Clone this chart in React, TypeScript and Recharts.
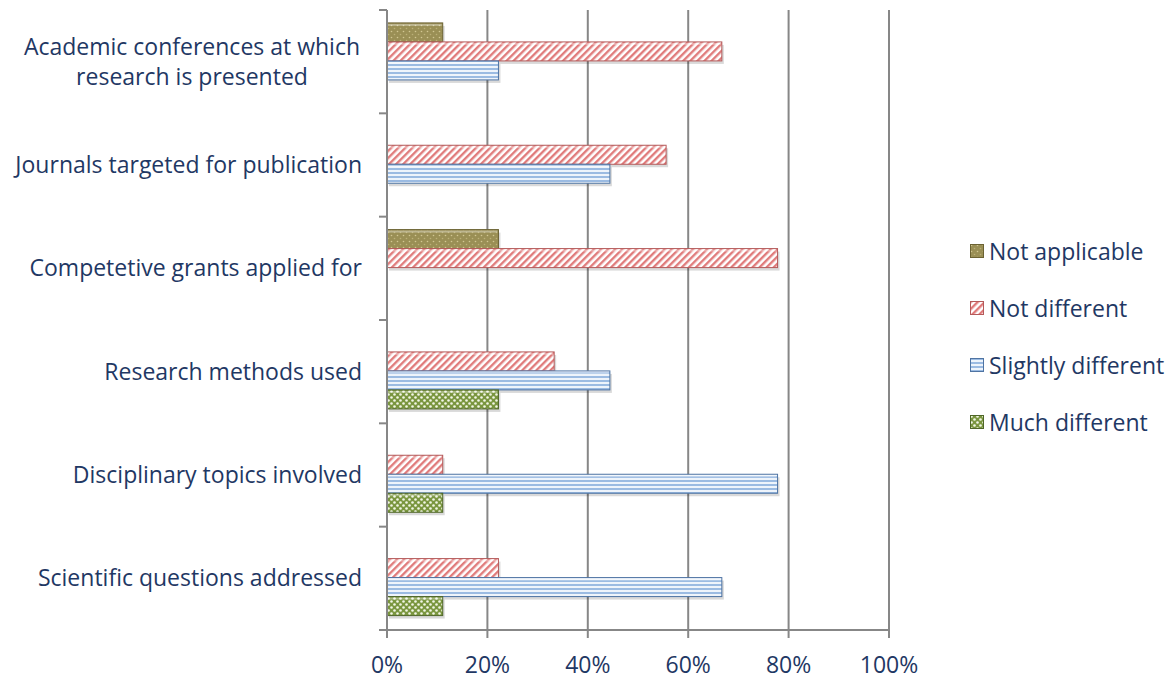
import React from 'react';
import { BarChart, Bar, XAxis, YAxis, CartesianGrid } from 'recharts';

const categories = [
  'Academic conferences at which research is presented',
  'Journals targeted for publication',
  'Competetive grants applied for',
  'Research methods used',
  'Disciplinary topics involved',
  'Scientific questions addressed',
];

// shares of respondents
const notApplicable = [0.111, 0, 0.222, 0, 0, 0];
const notDifferent = [0.667, 0.556, 0.778, 0.333, 0.111, 0.222];
const slightlyDifferent = [0.222, 0.444, 0, 0.444, 0.778, 0.667];
const muchDifferent = [0, 0, 0, 0.222, 0.111, 0.111];

const xTicks = [0, 0.2, 0.4, 0.6, 0.8, 1];

const SERIES = [
  { key: 'notApplicable', name: 'Not applicable', fill: 'url(#pNA)', edge: '#6b6232' },
  { key: 'notDifferent', name: 'Not different', fill: 'url(#pND)', edge: '#b45a5a' },
  { key: 'slightlyDifferent', name: 'Slightly different', fill: 'url(#pSD)', edge: '#4f74a3' },
  { key: 'muchDifferent', name: 'Much different', fill: 'url(#pMD)', edge: '#4f6628' },
];

const data = categories.map((category, i) => ({
  category,
  notApplicable: notApplicable[i],
  notDifferent: notDifferent[i],
  slightlyDifferent: slightlyDifferent[i],
  muchDifferent: muchDifferent[i],
}));

const TEXT = '#1F3864';
const GRID = '#878787';
const FONT = '"Open Sans", sans-serif';
const FS = 23;

const W = 1175;
const H = 683;
const TOP = 10;
const BOTTOM = 630;
const AXIS_X = 387;
const BAND = (BOTTOM - TOP) / categories.length;

function CategoryTick(props: any) {
  const { y, payload, index } = props;
  const label: string = payload.value;
  let lines = [label];
  if (label.length > 35) {
    lines = ['Academic conferences at which', 'research is presented'];
  }
  const lh = 30;
  const y0 = y - ((lines.length - 1) * lh) / 2;
  return (
    <g>
      <line x1={AXIS_X - 8} x2={AXIS_X} y1={y + BAND / 2} y2={y + BAND / 2} stroke={GRID} strokeWidth={2} />
      {index === 0 && (
        <line x1={AXIS_X - 8} x2={AXIS_X} y1={y - BAND / 2} y2={y - BAND / 2} stroke={GRID} strokeWidth={2} />
      )}
      {lines.map((l, i) => (
        <text
          key={i}
          x={lines.length > 1 ? 192 : AXIS_X - 25}
          y={y0 + i * lh}
          dy="0.35em"
          textAnchor={lines.length > 1 ? 'middle' : 'end'}
          fill={TEXT}
          fontSize={FS}
          fontFamily={FONT}
        >
          {l}
        </text>
      ))}
    </g>
  );
}

function makeShape(edge: string) {
  return (props: any) => {
    const { x, y, width, height, fill } = props;
    if (!width || width <= 0) return null;
    return (
      <g>
        <rect x={x + 2} y={y + 3} width={width} height={height} fill="#000" opacity={0.15} />
        <rect x={x} y={y} width={width} height={height} fill={fill} stroke={edge} strokeWidth={1} />
        <rect x={x + 1} y={y + 1} width={Math.max(width - 2, 0)} height={2} fill="#fff" opacity={0.35} />
      </g>
    );
  };
}

function LegendBox() {
  return (
    <div style={{ position: 'absolute', left: 970, top: 222, fontFamily: FONT, fontSize: FS, color: TEXT }}>
      {SERIES.map((s) => (
        <div key={s.key} style={{ display: 'flex', alignItems: 'center', height: 57 }}>
          <svg width={14} height={14} style={{ marginRight: 5 }}>
            <rect x={0.5} y={0.5} width={13} height={13} fill={s.fill} stroke={s.edge} />
          </svg>
          <span>{s.name}</span>
        </div>
      ))}
    </div>
  );
}

export default function App() {
  return (
    <div style={{ position: 'absolute', left: 0, top: 0, width: W, height: H, background: '#fff' }}>
      <BarChart
        width={W}
        height={H}
        data={data}
        layout="vertical"
        margin={{ top: TOP, right: W - 889, bottom: 13, left: 0 }}
        barCategoryGap="12.5%"
        barGap={0}
      >
        <defs>
          <pattern id="pNA" width={6} height={6} patternUnits="userSpaceOnUse">
            <rect width={6} height={6} fill="#9a8f55" />
            <circle cx={1.5} cy={1.5} r={0.8} fill="#d2c792" />
            <circle cx={4.5} cy={4.5} r={0.8} fill="#bbb077" />
          </pattern>
          <pattern id="pND" width={5} height={5} patternUnits="userSpaceOnUse" patternTransform="rotate(45)">
            <rect width={5} height={5} fill="#fff" />
            <rect width={2.4} height={5} fill="#e07b7b" />
          </pattern>
          <pattern id="pSD" width={4} height={4} patternUnits="userSpaceOnUse">
            <rect width={4} height={4} fill="#eef4fb" />
            <rect width={4} height={2} fill="#9bbbe2" />
          </pattern>
          <pattern id="pMD" width={6} height={6} patternUnits="userSpaceOnUse">
            <rect width={6} height={6} fill="#7a963f" />
            <circle cx={1.5} cy={1.5} r={1.3} fill="#f2f6e6" />
            <circle cx={4.5} cy={4.5} r={1.3} fill="#f2f6e6" />
          </pattern>
        </defs>
        <CartesianGrid horizontal={false} stroke={GRID} strokeWidth={2} />
        <XAxis
          type="number"
          domain={[0, 1]}
          ticks={xTicks}
          tickFormatter={(v: number) => `${Math.round(v * 100)}%`}
          axisLine={{ stroke: GRID, strokeWidth: 2 }}
          tickLine={{ stroke: GRID, strokeWidth: 2 }}
          tickSize={8}
          tickMargin={19}
          height={40}
          tick={{ fill: TEXT, fontSize: FS, fontFamily: FONT }}
          interval={0}
        />
        <YAxis
          type="category"
          dataKey="category"
          width={AXIS_X}
          axisLine={{ stroke: GRID, strokeWidth: 2 }}
          tickLine={false}
          tick={<CategoryTick />}
          interval={0}
        />
        {SERIES.map((s) => (
          <Bar
            key={s.key}
            dataKey={s.key}
            name={s.name}
            fill={s.fill}
            isAnimationActive={false}
            shape={makeShape(s.edge)}
          />
        ))}
      </BarChart>
      <LegendBox />
    </div>
  );
}
